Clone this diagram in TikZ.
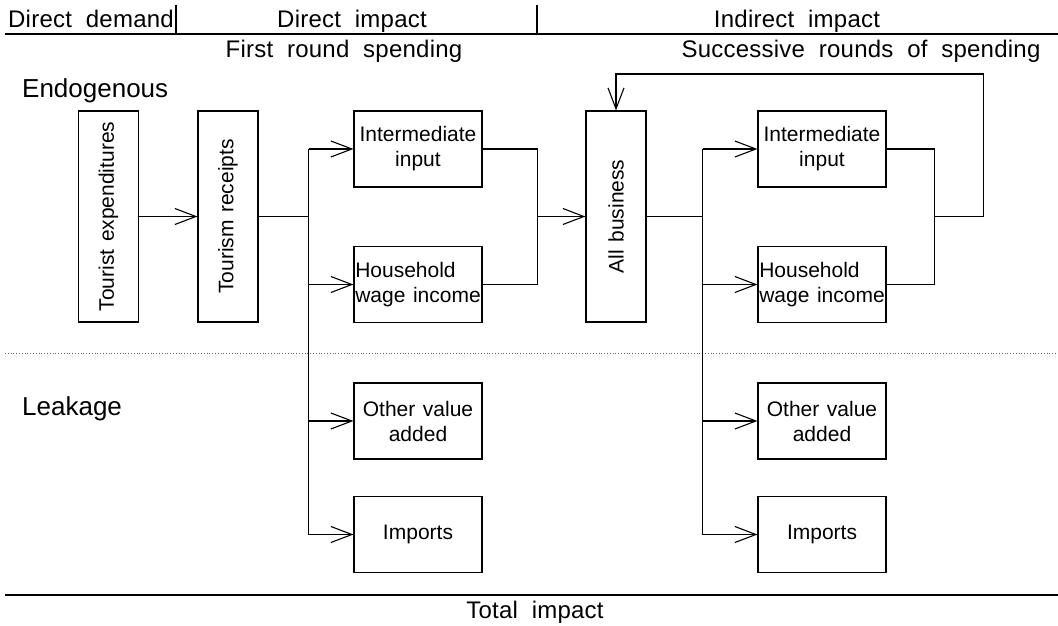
\documentclass[tikz,border=0pt]{standalone}
\usepackage{fontspec}
\setmainfont{Liberation Sans}
\newfontfamily\hdfont{Liberation Sans}[LetterSpace=1,WordSpace=2]
\newfontfamily\bxfont{Liberation Sans}[WordSpace=1.3]
\usetikzlibrary{arrows.meta,positioning,calc}
\tikzset{
	blk/.style={draw, line width=1.1pt, minimum width=128pt, minimum height=76pt,
		inner sep=0pt, align=center, font=\bxfont\fontsize{21}{25}\selectfont},
	tall/.style={blk, minimum width=60pt, minimum height=211pt},
	hdr/.style={font=\hdfont\fontsize{24}{28}\selectfont, anchor=base, inner sep=0pt},
	side/.style={font=\fontsize{26}{30}\selectfont, anchor=base west, inner sep=0pt},
	wire/.style={line width=1.1pt},
	rule/.style={line width=1.1pt},
}
\begin{document}
\begin{tikzpicture}[x=1pt, y=-1pt, >={Straight Barb[length=21pt,width=16pt]}]
	\useasboundingbox (0,0) rectangle (1058,626);
	\node[hdr] at (91,28) (dd) {Direct demand};
	\node[hdr] at (352,28) (di) {Direct impact};
	\node[hdr] at (797,28) (ii) {Indirect impact};
	\node[hdr] at (344,58) (frs) {First round spending};
	\node[hdr] at (861,58) (srs) {Successive rounds of spending};
	\node[side] at (22,98) (endo) {Endogenous};
	\node[side] at (22,415) (leak) {Leakage};
	\node[hdr] at (535,618) (tot) {Total impact};
	\draw[rule] (5,34) -- (1058,34);
	\draw[rule] (176,5) -- (176,34);
	\draw[rule] (537,5) -- (537,34);
	\draw[line width=0.8pt, black!60, dotted] (5,353) -- (1058,353);
	\draw[rule] (5,595) -- (1058,595);
	\node[tall] at (108.5,216.5) (te) {\rotatebox{90}{Tourist expenditures}};
	\node[tall] at (228,216.5) (tr) {\rotatebox{90}{Tourism receipts}};
	\node[blk] at (418,149) (ii1) {Intermediate\\input};
	\node[blk, align=left] at (418,284.5) (hw1) {Household\\wage income};
	\node[blk] at (418,421) (ov1) {Other value\\added};
	\node[blk] at (418,534.5) (im1) {Imports};
	\node[tall] at (616,216.5) (ab) {\rotatebox{90}{All business}};
	\node[blk] at (822,149) (ii2) {Intermediate\\input};
	\node[blk, align=left] at (822,284.5) (hw2) {Household\\wage income};
	\node[blk] at (822,421) (ov2) {Other value\\added};
	\node[blk] at (822,534.5) (im2) {Imports};
	\draw[wire, ->] (te) -- (tr);
	\draw[wire] (tr.east) -- ++(50,0) coordinate (b1);
	\draw[wire] (b1 |- ii1.west) -- (b1 |- im1.west);
	\foreach \n in {ii1,hw1,ov1,im1}
		\draw[wire, ->] (b1 |- \n.west) -- (\n.west);
	\draw[wire] (ii1.east) -- ++(55,0) coordinate (c1) |- (hw1.east);
	\draw[wire, ->] (c1 |- ab.west) -- (ab.west);
	\draw[wire] (ab.east) -- ++(56,0) coordinate (b2);
	\draw[wire] (b2 |- ii2.west) -- (b2 |- im2.west);
	\foreach \n in {ii2,hw2,ov2,im2}
		\draw[wire, ->] (b2 |- \n.west) -- (\n.west);
	\draw[wire] (ii2.east) -- ++(48,0) coordinate (c2) |- (hw2.east);
	\draw[wire, ->] (c2 |- ab.east) -- ++(49,0) -- ++(0,-142.5) -| (ab.north);
\end{tikzpicture}
\end{document}
